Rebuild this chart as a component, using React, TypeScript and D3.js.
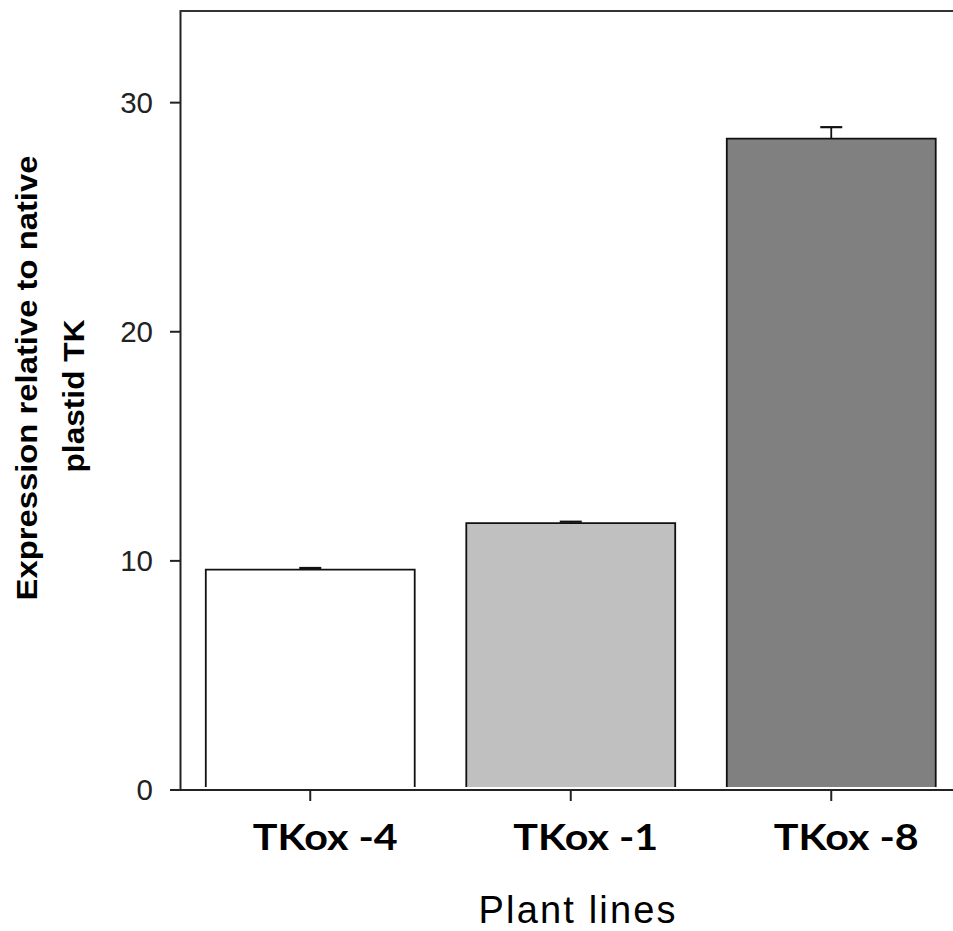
import React from "react";
import * as d3 from "d3";

const categories = ["TKox -4", "TKox -1", "TKox -8"];
const values = [9.62, 11.65, 28.43];
const errors = [0.07, 0.06, 0.5];
const barColors = ["#FFFFFF", "#C0C0C0", "#808080"];
const yTicks = [0, 10, 20, 30];

const W = 953;
const H = 931;

export default function App() {
  const y = d3.scaleLinear().domain([0, 34]).range([790, 11]);
  const x = d3
    .scaleBand<string>()
    .domain(categories)
    .range([180, 180 + 3 * 260.5])
    .paddingInner(0.198)
    .paddingOuter(0.099);
  const bw = x.bandwidth();
  const y0 = y(0);

  return (
    <svg
      width={W}
      height={H}
      style={{ position: "absolute", left: 0, top: 0, background: "#fff" }}
      fontFamily="'Liberation Sans', Arial, sans-serif"
    >
      {/* bars */}
      {categories.map((c, i) => {
        const x0 = x(c)!;
        const top = y(values[i]);
        const bottom = y0 - 3;
        return (
          <g key={c}>
            <rect x={x0} y={top} width={bw} height={bottom - top} fill={barColors[i]} />
            <path
              d={`M${x0},${bottom}V${top}H${x0 + bw}V${bottom}`}
              fill="none"
              stroke="#111"
              strokeWidth={1.8}
            />
            {/* error bar */}
            <line
              x1={x0 + bw / 2}
              x2={x0 + bw / 2}
              y1={top}
              y2={y(values[i] + errors[i])}
              stroke="#111"
              strokeWidth={1.8}
            />
            <line
              x1={x0 + bw / 2 - 11}
              x2={x0 + bw / 2 + 11}
              y1={y(values[i] + errors[i])}
              y2={y(values[i] + errors[i])}
              stroke="#111"
              strokeWidth={2.2}
            />
          </g>
        );
      })}

      {/* axes frame */}
      <line x1={180.5} x2={180.5} y1={10} y2={y0} stroke="#222" strokeWidth={2} />
      <line x1={180} x2={W} y1={11} y2={11} stroke="#333" strokeWidth={2} />
      <line x1={170} x2={W} y1={y0} y2={y0} stroke="#222" strokeWidth={2} />

      {/* y ticks */}
      {yTicks.map((t) => (
        <g key={t}>
          <line x1={170} x2={180} y1={y(t)} y2={y(t)} stroke="#222" strokeWidth={2} />
          <text x={153} y={y(t) + 10} textAnchor="end" fontSize={29.5} fill="#222">
            {t}
          </text>
        </g>
      ))}

      {/* x ticks */}
      {categories.map((c) => {
        const cx = x(c)! + bw / 2;
        return (
          <g key={c}>
            <line x1={cx} x2={cx} y1={y0} y2={y0 + 11} stroke="#222" strokeWidth={2} />
            <text
              x={cx + 15}
              y={850}
              textAnchor="middle"
              fontSize={36}
              fontWeight="bold"
              fontFamily="Lato, 'Open Sans', sans-serif"
              textLength={145}
              lengthAdjust="spacingAndGlyphs"
              fill="#000"
            >
              {c}
            </text>
          </g>
        );
      })}

      {/* x title */}
      <text
        x={577}
        y={923}
        textAnchor="middle"
        fontSize={38}
        textLength={197}
        lengthAdjust="spacing"
        fill="#000"
      >
        Plant lines
      </text>

      {/* y title */}
      <text
        transform="translate(37,378) rotate(-90)"
        textAnchor="middle"
        fontSize={30}
        fontWeight="bold"
        textLength={445}
        lengthAdjust="spacingAndGlyphs"
        fill="#000"
      >
        Expression relative to native
      </text>
      <text
        transform="translate(84,396) rotate(-90)"
        textAnchor="middle"
        fontSize={30}
        fontWeight="bold"
        textLength={153}
        lengthAdjust="spacingAndGlyphs"
        fill="#000"
      >
        plastid TK
      </text>
    </svg>
  );
}
